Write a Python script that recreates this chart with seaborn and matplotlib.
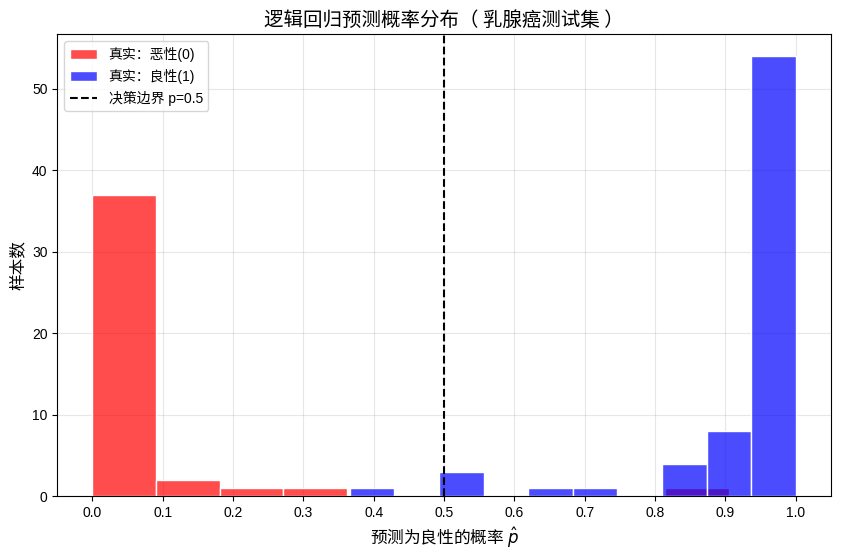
import numpy as np
import pandas as pd
import seaborn as sns
import matplotlib
matplotlib.use("Agg")
import matplotlib.pyplot as plt

# Histogram bins (10 bins per class)
mal_lo, mal_hi = 0.0, 0.905
mal_counts = [37, 2, 1, 1, 0, 0, 0, 0, 0, 1]
ben_lo, ben_hi = 0.366, 1.0
ben_counts = [1, 0, 3, 0, 1, 1, 0, 4, 8, 54]

sns.set_style("white")
plt.rcParams['font.family'] = ['Liberation Sans', 'Noto Sans CJK SC', 'DejaVu Sans']
plt.rcParams['axes.unicode_minus'] = False
plt.rcParams['text.color'] = 'black'
plt.rcParams['axes.labelcolor'] = 'black'
plt.rcParams['xtick.color'] = 'black'
plt.rcParams['ytick.color'] = 'black'

mal_edges = np.linspace(mal_lo, mal_hi, len(mal_counts) + 1)
ben_edges = np.linspace(ben_lo, ben_hi, len(ben_counts) + 1)
mal_df = pd.DataFrame({"p": (mal_edges[:-1] + mal_edges[1:]) / 2, "n": mal_counts})
ben_df = pd.DataFrame({"p": (ben_edges[:-1] + ben_edges[1:]) / 2, "n": ben_counts})

fig, ax = plt.subplots(figsize=(8.41, 5.6), dpi=100)
fig.subplots_adjust(left=0.068, right=0.988, top=0.939, bottom=0.114)

sns.histplot(data=mal_df, x="p", weights="n", bins=mal_edges.tolist(), color="red",
             alpha=0.7, edgecolor="white", linewidth=1, label="真实：恶性(0)", ax=ax)
sns.histplot(data=ben_df, x="p", weights="n", bins=ben_edges.tolist(), color="blue",
             alpha=0.7, edgecolor="white", linewidth=1, label="真实：良性(1)", ax=ax)
ax.axvline(0.5, color="black", linestyle="--", linewidth=1.5, label="决策边界 p=0.5")

ax.set_xticks(np.arange(0, 1.01, 0.1))
ax.set_xlim(-0.05, 1.05)
ax.set_ylim(0, 56.7)
ax.grid(True, color="#b0b0b0", alpha=0.3)
for s in ax.spines.values():
    s.set_color("black")
ax.tick_params(axis="both", labelsize=10, length=3.5, left=True, bottom=True)

ax.set_title("逻辑回归预测概率分布（ 乳腺癌测试集 ）", fontsize=14, family="Noto Sans CJK SC")
ax.set_xlabel(r"预测为良性的概率 $\hat{p}$", fontsize=12, family="Noto Sans CJK SC")
ax.set_ylabel("样本数", fontsize=12, family="Noto Sans CJK SC")

# hist patches first, then the boundary line
handles, labels = ax.get_legend_handles_labels()
order = [labels.index(l) for l in ["真实：恶性(0)", "真实：良性(1)", "决策边界 p=0.5"]]
ax.legend([handles[i] for i in order], [labels[i] for i in order],
          loc="upper left", fontsize=10)

fig.savefig("out.png", dpi=100)
